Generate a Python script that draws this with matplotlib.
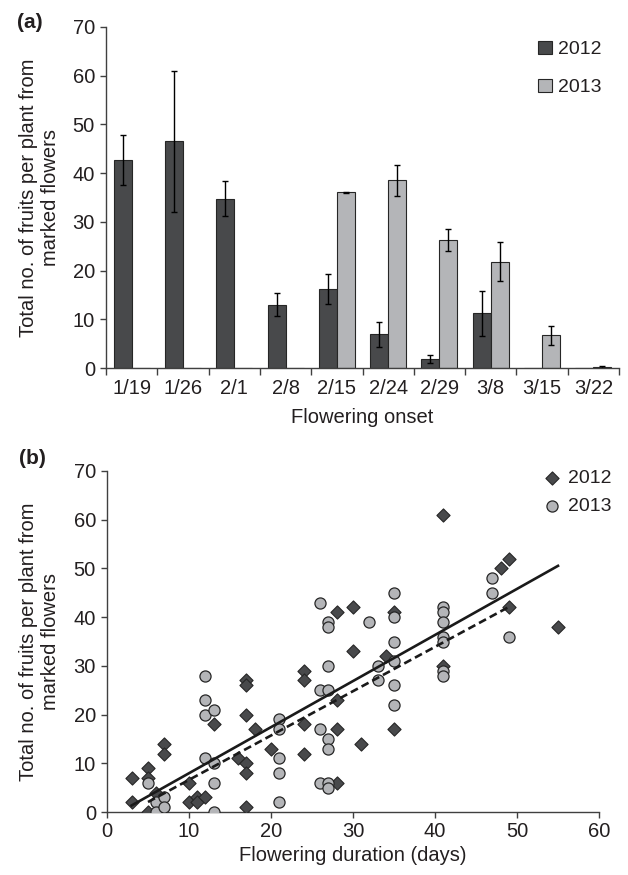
"""Fruit set by flowering onset (a) and flowering duration (b), 2012 vs 2013."""

import matplotlib
import matplotlib.pyplot as plt
import numpy as np

matplotlib.use("Agg")

plt.rcParams["font.family"] = ["Liberation Sans", "DejaVu Sans"]
plt.rcParams["text.color"] = "#231f20"
plt.rcParams["axes.labelcolor"] = "#231f20"
plt.rcParams["xtick.color"] = "#404040"
plt.rcParams["ytick.color"] = "#404040"
plt.rcParams["xtick.labelcolor"] = "#231f20"
plt.rcParams["ytick.labelcolor"] = "#231f20"

DARK = "#48494b"
LIGHT = "#b4b5b8"
EDGE = "#262626"
FS = 14.5

# ---- panel (a) data: mean fruits per plant by flowering onset ----
onset = ["1/19", "1/26", "2/1", "2/8", "2/15", "2/24", "2/29", "3/8", "3/15", "3/22"]
mean_2012 = [42.7, 46.5, 34.7, 13.0, 16.2, 6.9, 1.9, 11.2, 0.0, 0.0]
err_2012 = [5.2, 14.5, 3.6, 2.3, 3.1, 2.5, 0.8, 4.7, 0.0, 0.0]
mean_2013 = [0.0, 0.0, 0.0, 0.0, 36.1, 38.5, 26.3, 21.8, 6.7, 0.3]
err_2013 = [0.0, 0.0, 0.0, 0.0, 0.1, 3.1, 2.2, 4.0, 1.9, 0.2]

# ---- panel (b) data: flowering duration (days) vs fruits ----
dur_2012 = [3, 3, 5, 5, 5, 6, 7, 7, 10, 10, 11, 11, 12, 13, 16, 17, 17, 17,
            17, 17, 17, 18, 20, 24, 24, 24, 24, 28, 30, 30, 28, 28, 31, 28,
            34, 35, 35, 41, 41, 48, 49, 49, 55]
fruit_2012 = [7, 2, 9, 0, 7, 4, 14, 12, 6, 2, 3, 2, 3, 18, 11, 27, 26, 20,
              10, 8, 1, 17, 13, 29, 27, 18, 12, 41, 42, 33, 23, 17, 14, 6,
              32, 41, 17, 61, 30, 50, 52, 42, 38]
dur_2013 = [5, 6, 6, 7, 7, 12, 12, 12, 13, 12, 13, 13, 13, 21, 21, 21, 21,
            21, 26, 27, 27, 27, 26, 27, 26, 27, 27, 26, 27, 27, 32, 33, 33,
            35, 35, 35, 35, 35, 35, 41, 41, 41, 41, 41, 41, 41, 47, 47, 49]
fruit_2013 = [6, 2, 0, 3, 1, 28, 23, 20, 21, 11, 10, 6, 0, 19, 17, 11, 8,
              2, 43, 39, 38, 30, 25, 25, 17, 15, 13, 6, 6, 5, 39, 30, 27,
              45, 40, 35, 31, 26, 22, 42, 41, 39, 36, 35, 29, 28, 48, 45, 36]

# fitted lines as drawn in the source: slope, intercept, x range
fit_2012 = (0.946, -1.5, 3, 55)
fit_2013 = (0.91, -2.5, 5, 49)

W, H = 628, 875
fig = plt.figure(figsize=(W / 100, H / 100), dpi=100)


def style_axis(ax):
    for side in ("top", "right"):
        ax.spines[side].set_visible(False)
    for side in ("left", "bottom"):
        ax.spines[side].set_color("#404040")
        ax.spines[side].set_linewidth(1.0)
    ax.tick_params(labelsize=FS, width=1.0)
    ax.set_ylim(0, 70)
    ax.set_yticks(range(0, 71, 10))
    ax.tick_params(axis="y", length=4, pad=4)


# ---------------- panel (a) ----------------
ax1 = fig.add_axes([106 / W, 1 - 368 / H, 513 / W, 341 / H])
style_axis(ax1)
x = np.arange(len(onset))
bw = 0.35
ekw = dict(ecolor="black", elinewidth=1.0, capsize=2.5, capthick=1.0)
ax1.bar(x - bw / 2, mean_2012, bw, yerr=[e if m > 0 else np.nan for m, e in zip(mean_2012, err_2012)],
        color=DARK, edgecolor=EDGE, linewidth=0.8, error_kw=ekw, label="2012")
ax1.bar(x + bw / 2, mean_2013, bw, yerr=[e if m > 0 else np.nan for m, e in zip(mean_2013, err_2013)],
        color=LIGHT, edgecolor=EDGE, linewidth=0.8, error_kw=ekw, label="2013")
ax1.set_xlim(-0.5, len(onset) - 0.5)
ax1.set_xticks(x, onset)
ax1.set_xticks(np.arange(len(onset) + 1) - 0.5, minor=True)
ax1.tick_params(axis="x", which="major", length=0, pad=8)
ax1.tick_params(axis="x", which="minor", length=5, width=1.0)
ax1.set_xlabel("Flowering onset", fontsize=FS, labelpad=7)
ax1.set_ylabel("Total no. of fruits per plant from\nmarked flowers", fontsize=FS)
ax1.yaxis.set_label_coords(-0.09, 0.5)
ax1.legend(loc="center left", bbox_to_anchor=(538 / W, 1 - 68.5 / H),
           bbox_transform=fig.transFigure, frameon=False, fontsize=14,
           handlelength=0.7, handleheight=0.7, handletextpad=0.35,
           labelspacing=1.05, borderpad=0, borderaxespad=0)
fig.text(30 / W, 1 - 23 / H, "(a)", fontsize=15, fontweight="bold",
         ha="center", va="center")

# ---------------- panel (b) ----------------
ax2 = fig.add_axes([107 / W, 1 - 812 / H, 492 / W, 341 / H])
style_axis(ax2)
ax2.scatter(dur_2012, fruit_2012, marker="D", s=45, color=DARK,
            edgecolor=EDGE, linewidth=0.8, label="2012", zorder=3)
ax2.scatter(dur_2013, fruit_2013, marker="o", s=64, color=LIGHT,
            edgecolor=EDGE, linewidth=0.9, label="2013", zorder=4)
for (slope, icpt, x0, x1), ls in ((fit_2012, "-"), (fit_2013, (0, (3, 1.6)))):
    xs = np.array([x0, x1])
    ax2.plot(xs, slope * xs + icpt, color="#1a1a1a", linewidth=1.9,
             linestyle=ls, zorder=5)
ax2.set_xlim(0, 60)
ax2.set_xticks(range(0, 61, 10))
ax2.tick_params(axis="x", length=4, pad=3)
ax2.set_xlabel("Flowering duration (days)", fontsize=FS, labelpad=4)
ax2.set_ylabel("Total no. of fruits per plant from\nmarked flowers", fontsize=FS)
ax2.yaxis.set_label_coords(-0.0955, 0.5)
ax2.legend(loc="center left", bbox_to_anchor=(544 / W, 1 - 492.5 / H),
           bbox_transform=fig.transFigure, frameon=False, fontsize=14,
           scatterpoints=1, handlelength=0.8, handletextpad=0.45,
           labelspacing=0.55, borderpad=0, borderaxespad=0)
fig.text(32 / W, 1 - 458 / H, "(b)", fontsize=15, fontweight="bold",
         ha="center", va="center")

fig.savefig("out.png", dpi=100)
plt.close(fig)
